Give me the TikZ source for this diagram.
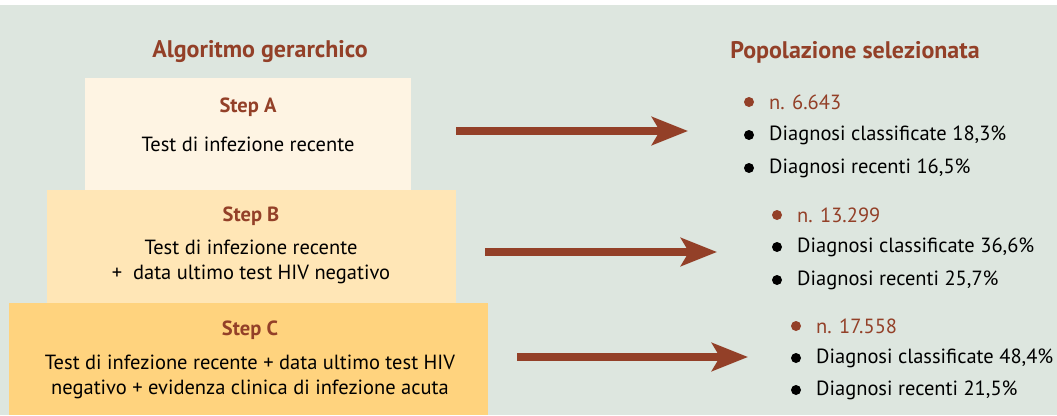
\documentclass[tikz,border=0pt]{standalone}
\usepackage{fontspec}
\setmainfont{PT Sans}
\usetikzlibrary{arrows.meta}
\definecolor{bg}{HTML}{DDE6DF}
\definecolor{rust}{HTML}{934028}
\definecolor{boxA}{HTML}{FEF4E3}
\definecolor{boxB}{HTML}{FFE6B6}
\definecolor{boxC}{HTML}{FFD37E}
\tikzset{
  steplabel/.style={text=rust, font=\bfseries\fontsize{20.5}{24}\selectfont},
  body/.style={font=\fontsize{20.5}{25}\selectfont, align=center},
  head/.style={text=rust, font=\bfseries\fontsize{24}{28}\selectfont},
  item/.style={font=\fontsize{20.5}{24}\selectfont, anchor=west, inner sep=0pt},
  nitem/.style={item, text=rust},
  dot/.style={circle, fill=black, minimum size=10pt, inner sep=0pt},
  ndot/.style={dot, fill=rust},
  bigarrow/.style={draw=rust, line width=8pt, -{Stealth[length=36pt, width=28pt, inset=8pt]}}
}
\begin{document}
\begin{tikzpicture}[x=1pt, y=-1pt]
\useasboundingbox (0,0) rectangle (1057,415);
\fill[white] (0,0) rectangle (1057,415);
\fill[bg] (0,5) rectangle (1057,415);
% boxes
\fill[boxA] (85,78) rectangle (411,190);
\fill[boxB] (47,190) rectangle (456,303);
\fill[boxC] (9,303) rectangle (488,415);
% headings
\node[head] (h1) at (260,52) {Algoritmo gerarchico};
\node[head] (h2) at (855,52) {Popolazione selezionata};
% step texts
\node[steplabel] (sa) at (248,107) {Step A};
\node[body] (ta) at (248,144) {Test di infezione recente};
\node[steplabel] (sb) at (251,216) {Step B};
\node[body] (tb) at (251,262) {Test di infezione recente\\+~ data ultimo test HIV negativo};
\node[steplabel] (sc) at (250,330) {Step C};
\node[body] (tc) at (250,377) {Test di infezione recente + data ultimo test HIV\\negativo + evidenza clinica di infezione acuta};
% arrows
\coordinate (a1) at (456,131); \coordinate (a2) at (688,131);
\coordinate (b1) at (485,252); \coordinate (b2) at (717,252);
\coordinate (c1) at (517,357); \coordinate (c2) at (748,357);
\draw[bigarrow] (a1) -- (a2);
\draw[bigarrow] (b1) -- (b2);
\draw[bigarrow] (c1) -- (c2);
% group A
\node[ndot] (da1) at (749,102) {};
\node[nitem] (ia1) at (769,102) {n. 6.643};
\node[dot] (da2) at (749,135) {};
\node[item] (ia2) at (769,135) {Diagnosi classificate 18,3\%};
\node[dot] (da3) at (749,168) {};
\node[item] (ia3) at (769,168) {Diagnosi recenti 16,5\%};
% group B
\node[ndot] (db1) at (777,215) {};
\node[nitem] (ib1) at (797,215) {n. 13.299};
\node[dot] (db2) at (777,247) {};
\node[item] (ib2) at (797,247) {Diagnosi classificate 36,6\%};
\node[dot] (db3) at (777,280) {};
\node[item] (ib3) at (797,280) {Diagnosi recenti 25,7\%};
% group C
\node[ndot] (dc1) at (796,326) {};
\node[nitem] (ic1) at (816,326) {n. 17.558};
\node[dot] (dc2) at (796,358) {};
\node[item] (ic2) at (816,358) {Diagnosi classificate 48,4\%};
\node[dot] (dc3) at (796,390) {};
\node[item] (ic3) at (816,390) {Diagnosi recenti 21,5\%};
\end{tikzpicture}
\end{document}
